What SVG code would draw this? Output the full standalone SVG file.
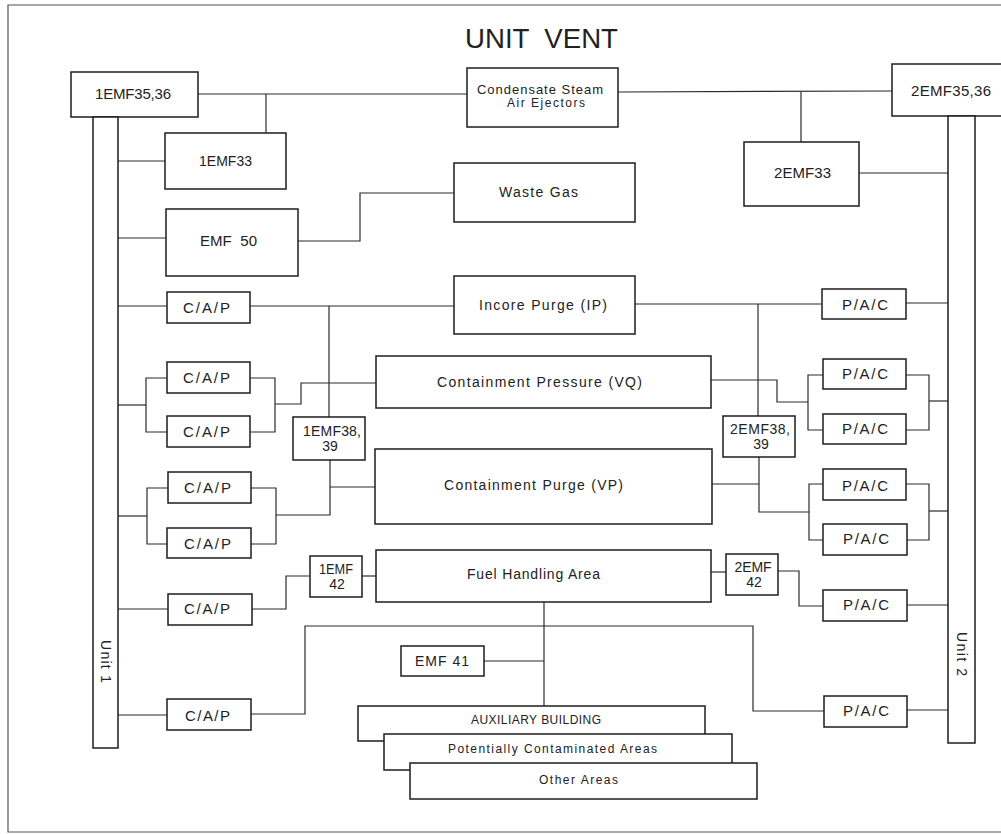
<svg xmlns="http://www.w3.org/2000/svg" width="1001" height="834" viewBox="0 0 1001 834">
<style>
.bd{fill:none;stroke:#555;stroke-width:1.2}
.box{fill:#fff;stroke:#1c1c1c;stroke-width:1.5}
.ln{fill:none;stroke:#2a2a2a;stroke-width:1.2}
.t{font-family:"Liberation Sans",Arial,sans-serif;fill:#222;font-size:14px}
.m{text-anchor:middle}
.s15{font-size:15px}
.s13{font-size:13px}
.s12{font-size:12px}
.tt{font-family:"Liberation Sans",Arial,sans-serif;fill:#222;font-size:28px}
</style>
<rect width="1001" height="834" fill="#fff"/>
<g id="border">
<polyline class="bd" points="1001,5 8,5 8,832 1001,832"/>
</g>
<text class="tt" x="465" y="48" xml:space="preserve" textLength="153" lengthAdjust="spacingAndGlyphs">UNIT  VENT</text>
<g id="connectors">
<polyline class="ln" points="198,94 467,94"/>
<polyline class="ln" points="266,94 266,133"/>
<polyline class="ln" points="618,92 892,91"/>
<polyline class="ln" points="801,92 801,142"/>
<polyline class="ln" points="118,161 165,161"/>
<polyline class="ln" points="118,238 166,238"/>
<polyline class="ln" points="298,241 360,241 360,193 454,193"/>
<polyline class="ln" points="859,173 948,173"/>
<polyline class="ln" points="118,306 167,306"/>
<polyline class="ln" points="250,306 454,306"/>
<polyline class="ln" points="329,306 329,417"/>
<polyline class="ln" points="635,304 822,304"/>
<polyline class="ln" points="758,304 758,416"/>
<polyline class="ln" points="906,303 948,303"/>
<polyline class="ln" points="118,405 146,405"/>
<polyline class="ln" points="167,378 146,378 146,432 167,432"/>
<polyline class="ln" points="250,378 275,378 275,432 250,432"/>
<polyline class="ln" points="275,404 301,404 301,383 376,383"/>
<polyline class="ln" points="118,516 147,516"/>
<polyline class="ln" points="168,488 147,488 147,544 167,544"/>
<polyline class="ln" points="251,488 276,488 276,544 251,544"/>
<polyline class="ln" points="276,515 330,515 330,460"/>
<polyline class="ln" points="330,487 375,487"/>
<polyline class="ln" points="118,609 168,609"/>
<polyline class="ln" points="252,609 286,609 286,576 310,576"/>
<polyline class="ln" points="362,576 376,576"/>
<polyline class="ln" points="711,380 777,380 777,402 808,402"/>
<polyline class="ln" points="823,375 808,375 808,430 823,430"/>
<polyline class="ln" points="906,375 929,375 929,430 906,430"/>
<polyline class="ln" points="929,401 948,401"/>
<polyline class="ln" points="712,484 759,484"/>
<polyline class="ln" points="759,457 759,512 809,512"/>
<polyline class="ln" points="823,484 809,484 809,540 823,540"/>
<polyline class="ln" points="906,484 929,484 929,540 907,540"/>
<polyline class="ln" points="929,511 948,511"/>
<polyline class="ln" points="711,572 726,572"/>
<polyline class="ln" points="778,571 799,571 799,606 823,606"/>
<polyline class="ln" points="907,605 948,605"/>
<polyline class="ln" points="544,602 544,706"/>
<polyline class="ln" points="251,714 305,714 305,626 753,626 753,711 824,711"/>
<polyline class="ln" points="907,710 948,710"/>
<polyline class="ln" points="118,715 167,715"/>
<polyline class="ln" points="484,661 544,661"/>
</g>
<g id="n_1emf3536"><rect class="box" x="71" y="72" width="127" height="45"/><text class="t s15" x="95" y="99" textLength="76">1EMF35,36</text></g>
<g id="n_condensate"><rect class="box" x="467" y="68" width="151" height="59"/><text class="t s13" x="477" y="94" textLength="126">Condensate Steam</text><text class="t s12" x="507" y="107" textLength="78">Air Ejectors</text></g>
<g id="n_2emf3536"><rect class="box" x="892" y="64" width="125" height="52"/><text class="t s15" x="911" y="96" textLength="80">2EMF35,36</text></g>
<g id="n_unit1"><rect class="box" x="93" y="117" width="25" height="631"/><text class="t" transform="translate(101,640) rotate(90)" textLength="43">Unit 1</text></g>
<g id="n_unit2"><rect class="box" x="948" y="116" width="27" height="627"/><text class="t" transform="translate(957,632) rotate(90)" textLength="44">Unit 2</text></g>
<g id="n_1emf33"><rect class="box" x="165" y="133" width="121" height="56"/><text class="t" x="199" y="166" textLength="53">1EMF33</text></g>
<g id="n_2emf33"><rect class="box" x="744" y="142" width="115" height="64"/><text class="t s15" x="774" y="178" textLength="57">2EMF33</text></g>
<g id="n_emf50"><rect class="box" x="166" y="209" width="132" height="67"/><text class="t s15" x="200" y="246" xml:space="preserve" textLength="57">EMF  50</text></g>
<g id="n_waste"><rect class="box" x="454" y="163" width="181" height="59"/><text class="t" x="499" y="197" textLength="79">Waste Gas</text></g>
<g id="n_cap_ip"><rect class="box" x="167" y="292" width="83" height="31"/><text class="t s15" x="183" y="313" textLength="47">C/A/P</text></g>
<g id="n_incore"><rect class="box" x="454" y="276" width="181" height="58"/><text class="t" x="479" y="310" textLength="128">Incore Purge (IP)</text></g>
<g id="n_pac_ip"><rect class="box" x="822" y="289" width="84" height="30"/><text class="t s15" x="842" y="310" textLength="46">P/A/C</text></g>
<g id="n_vq"><rect class="box" x="376" y="356" width="335" height="52"/><text class="t" x="437" y="387" textLength="205">Containment Pressure (VQ)</text></g>
<g id="n_cap1a"><rect class="box" x="167" y="362" width="83" height="31"/><text class="t s15" x="183" y="383" textLength="47">C/A/P</text></g>
<g id="n_cap1b"><rect class="box" x="167" y="416" width="83" height="31"/><text class="t s15" x="183" y="437" textLength="47">C/A/P</text></g>
<g id="n_1emf3839"><rect class="box" x="293" y="417" width="72" height="43"/><text class="t" x="303" y="436" textLength="58">1EMF38,</text><text class="t m" x="330" y="451">39</text></g>
<g id="n_2emf3839"><rect class="box" x="723" y="416" width="72" height="41"/><text class="t" x="730" y="434" textLength="60">2EMF38,</text><text class="t m" x="761" y="449">39</text></g>
<g id="n_vp"><rect class="box" x="375" y="449" width="337" height="75"/><text class="t" x="444" y="490" textLength="179">Containment Purge (VP)</text></g>
<g id="n_cap2a"><rect class="box" x="168" y="472" width="83" height="31"/><text class="t s15" x="184" y="493" textLength="47">C/A/P</text></g>
<g id="n_cap2b"><rect class="box" x="167" y="528" width="84" height="30"/><text class="t s15" x="184" y="549" textLength="47">C/A/P</text></g>
<g id="n_pac1a"><rect class="box" x="823" y="359" width="83" height="30"/><text class="t s15" x="842" y="379" textLength="46">P/A/C</text></g>
<g id="n_pac1b"><rect class="box" x="823" y="414" width="83" height="30"/><text class="t s15" x="842" y="434" textLength="46">P/A/C</text></g>
<g id="n_pac2a"><rect class="box" x="823" y="469" width="83" height="31"/><text class="t s15" x="842" y="491" textLength="46">P/A/C</text></g>
<g id="n_pac2b"><rect class="box" x="823" y="524" width="84" height="31"/><text class="t s15" x="843" y="544" textLength="46">P/A/C</text></g>
<g id="n_1emf42"><rect class="box" x="310" y="556" width="52" height="41"/><text class="t m" x="336" y="574" textLength="34" lengthAdjust="spacingAndGlyphs">1EMF</text><text class="t m" x="337" y="589">42</text></g>
<g id="n_fuel"><rect class="box" x="376" y="550" width="335" height="52"/><text class="t" x="467" y="579" textLength="133">Fuel Handling Area</text></g>
<g id="n_2emf42"><rect class="box" x="726" y="554" width="52" height="41"/><text class="t m" x="753" y="572" textLength="37">2EMF</text><text class="t m" x="754" y="587">42</text></g>
<g id="n_cap_e"><rect class="box" x="168" y="594" width="84" height="31"/><text class="t s15" x="184" y="614" textLength="46">C/A/P</text></g>
<g id="n_pac_e"><rect class="box" x="823" y="590" width="84" height="31"/><text class="t s15" x="843" y="610" textLength="46">P/A/C</text></g>
<g id="n_emf41"><rect class="box" x="401" y="646" width="83" height="30"/><text class="t" x="415" y="666" textLength="54">EMF 41</text></g>
<g id="n_cap_f"><rect class="box" x="167" y="699" width="84" height="31"/><text class="t s15" x="185" y="721" textLength="45">C/A/P</text></g>
<g id="n_pac_f"><rect class="box" x="824" y="696" width="83" height="31"/><text class="t s15" x="843" y="716" textLength="46">P/A/C</text></g>
<g id="n_aux"><rect class="box" x="358" y="706" width="347" height="35"/><text class="t s12" x="471" y="724" textLength="130">AUXILIARY BUILDING</text></g>
<g id="n_pot"><rect class="box" x="384" y="734" width="348" height="36"/><text class="t s12" x="448" y="753" textLength="209">Potentially Contaminated Areas</text></g>
<g id="n_other"><rect class="box" x="410" y="763" width="347" height="36"/><text class="t s12" x="539" y="784" textLength="79">Other Areas</text></g>
</svg>
